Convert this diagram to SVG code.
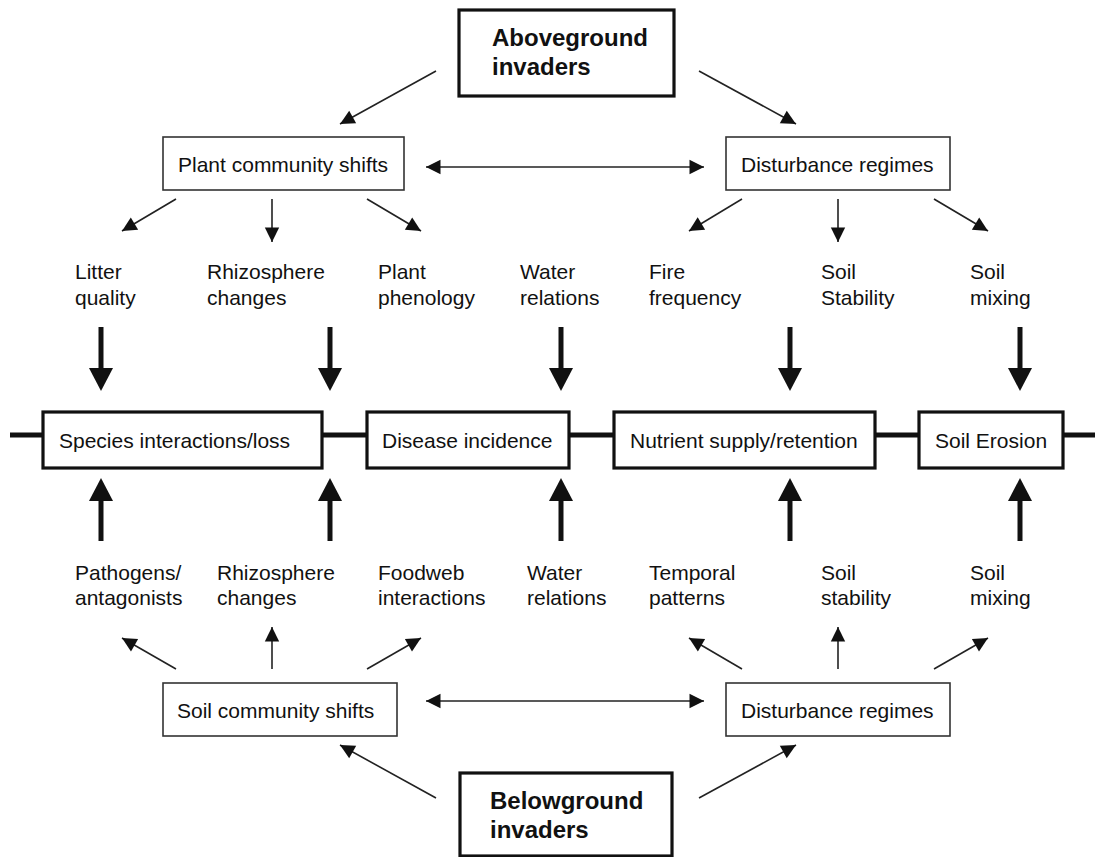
<svg xmlns="http://www.w3.org/2000/svg" width="1095" height="857" viewBox="0 0 1095 857">
<style>
text{font-family:"Liberation Sans",Arial,sans-serif;font-size:21px;fill:#111}
.big{font-weight:bold;font-size:24px}
.thin{fill:#fff;stroke:#333;stroke-width:1.6}
.thick{fill:#fff;stroke:#111;stroke-width:3.2}
.ln{stroke:#222;stroke-width:1.6;fill:none}
.tk{stroke:#111;stroke-width:5;fill:none}
.bar{stroke:#111;stroke-width:5;fill:none}
</style>
<defs>
<marker id="ah" markerUnits="userSpaceOnUse" markerWidth="16" markerHeight="16" viewBox="0 -8 15 16" refX="14.5" refY="0" orient="auto-start-reverse">
<path d="M0,-7.2 L14.5,0 L0,7.2 z" fill="#111"/>
</marker>
<marker id="bh" markerUnits="userSpaceOnUse" markerWidth="26" markerHeight="26" viewBox="0 -13 24 26" refX="0" refY="0" orient="auto">
<path d="M0,-12 L23,0 L0,12 z" fill="#111"/>
</marker>
</defs>
<rect width="1095" height="857" fill="#fff"/>

<g id="connectors">
<line class="bar" x1="10" y1="435" x2="1095" y2="435"/>
<line class="ln" x1="436" y1="71" x2="340" y2="124" marker-end="url(#ah)"/>
<line class="ln" x1="699" y1="71" x2="796" y2="124" marker-end="url(#ah)"/>
<line class="ln" x1="426" y1="167" x2="704" y2="167" marker-start="url(#ah)" marker-end="url(#ah)"/>
<line class="ln" x1="176" y1="199" x2="122" y2="231" marker-end="url(#ah)"/>
<line class="ln" x1="272" y1="199" x2="272" y2="242" marker-end="url(#ah)"/>
<line class="ln" x1="367" y1="199" x2="421" y2="231" marker-end="url(#ah)"/>
<line class="ln" x1="742" y1="199" x2="689" y2="231" marker-end="url(#ah)"/>
<line class="ln" x1="838" y1="199" x2="838" y2="242" marker-end="url(#ah)"/>
<line class="ln" x1="934" y1="199" x2="988" y2="231" marker-end="url(#ah)"/>
<line class="tk" x1="101" y1="327" x2="101" y2="368" marker-end="url(#bh)"/>
<line class="tk" x1="330" y1="327" x2="330" y2="368" marker-end="url(#bh)"/>
<line class="tk" x1="561" y1="327" x2="561" y2="368" marker-end="url(#bh)"/>
<line class="tk" x1="790" y1="327" x2="790" y2="368" marker-end="url(#bh)"/>
<line class="tk" x1="1020" y1="327" x2="1020" y2="368" marker-end="url(#bh)"/>
<line class="tk" x1="101" y1="541" x2="101" y2="501" marker-end="url(#bh)"/>
<line class="tk" x1="330" y1="541" x2="330" y2="501" marker-end="url(#bh)"/>
<line class="tk" x1="561" y1="541" x2="561" y2="501" marker-end="url(#bh)"/>
<line class="tk" x1="790" y1="541" x2="790" y2="501" marker-end="url(#bh)"/>
<line class="tk" x1="1020" y1="541" x2="1020" y2="501" marker-end="url(#bh)"/>
<line class="ln" x1="176" y1="669" x2="122" y2="638" marker-end="url(#ah)"/>
<line class="ln" x1="272" y1="669" x2="272" y2="627" marker-end="url(#ah)"/>
<line class="ln" x1="367" y1="669" x2="421" y2="638" marker-end="url(#ah)"/>
<line class="ln" x1="742" y1="669" x2="689" y2="638" marker-end="url(#ah)"/>
<line class="ln" x1="838" y1="669" x2="838" y2="627" marker-end="url(#ah)"/>
<line class="ln" x1="934" y1="669" x2="988" y2="638" marker-end="url(#ah)"/>
<line class="ln" x1="426" y1="701" x2="704" y2="701" marker-start="url(#ah)" marker-end="url(#ah)"/>
<line class="ln" x1="436" y1="798" x2="340" y2="745" marker-end="url(#ah)"/>
<line class="ln" x1="699" y1="798" x2="796" y2="745" marker-end="url(#ah)"/>
</g>

<g id="aboveground">
<rect class="thick" x="459" y="10" width="215" height="86"/>
<text class="big" x="492" y="46">Aboveground</text>
<text class="big" x="492" y="75">invaders</text>
</g>
<g id="plant-community">
<rect class="thin" x="163" y="137" width="241" height="53"/>
<text x="178" y="172">Plant community shifts</text>
</g>
<g id="disturbance-top">
<rect class="thin" x="726" y="137" width="224" height="53"/>
<text x="741" y="172">Disturbance regimes</text>
</g>

<g id="litter"><text x="75" y="279">Litter</text><text x="75" y="305">quality</text></g>
<g id="rhizo-top"><text x="207" y="279">Rhizosphere</text><text x="207" y="305">changes</text></g>
<g id="phenology"><text x="378" y="279">Plant</text><text x="378" y="305">phenology</text></g>
<g id="water-top"><text x="520" y="279">Water</text><text x="520" y="305">relations</text></g>
<g id="fire"><text x="649" y="279">Fire</text><text x="649" y="305">frequency</text></g>
<g id="stability-top"><text x="821" y="279">Soil</text><text x="821" y="305">Stability</text></g>
<g id="mixing-top"><text x="970" y="279">Soil</text><text x="970" y="305">mixing</text></g>

<g id="species">
<rect class="thick" x="43" y="412" width="279" height="56"/>
<text x="59" y="448">Species interactions/loss</text>
</g>
<g id="disease">
<rect class="thick" x="367" y="412" width="202" height="56"/>
<text x="382" y="448">Disease incidence</text>
</g>
<g id="nutrient">
<rect class="thick" x="614" y="412" width="261" height="56"/>
<text x="630" y="448">Nutrient supply/retention</text>
</g>
<g id="erosion">
<rect class="thick" x="919" y="412" width="144" height="56"/>
<text x="935" y="448">Soil Erosion</text>
</g>

<g id="pathogens"><text x="75" y="580">Pathogens/</text><text x="75" y="605">antagonists</text></g>
<g id="rhizo-bottom"><text x="217" y="580">Rhizosphere</text><text x="217" y="605">changes</text></g>
<g id="foodweb"><text x="378" y="580">Foodweb</text><text x="378" y="605">interactions</text></g>
<g id="water-bottom"><text x="527" y="580">Water</text><text x="527" y="605">relations</text></g>
<g id="temporal"><text x="649" y="580">Temporal</text><text x="649" y="605">patterns</text></g>
<g id="stability-bottom"><text x="821" y="580">Soil</text><text x="821" y="605">stability</text></g>
<g id="mixing-bottom"><text x="970" y="580">Soil</text><text x="970" y="605">mixing</text></g>

<g id="soil-community">
<rect class="thin" x="163" y="683" width="234" height="53"/>
<text x="177" y="718">Soil community shifts</text>
</g>
<g id="disturbance-bottom">
<rect class="thin" x="726" y="683" width="224" height="53"/>
<text x="741" y="718">Disturbance regimes</text>
</g>
<g id="belowground">
<rect class="thick" x="460" y="773" width="212" height="83"/>
<text class="big" x="490" y="809">Belowground</text>
<text class="big" x="490" y="838">invaders</text>
</g>
</svg>
